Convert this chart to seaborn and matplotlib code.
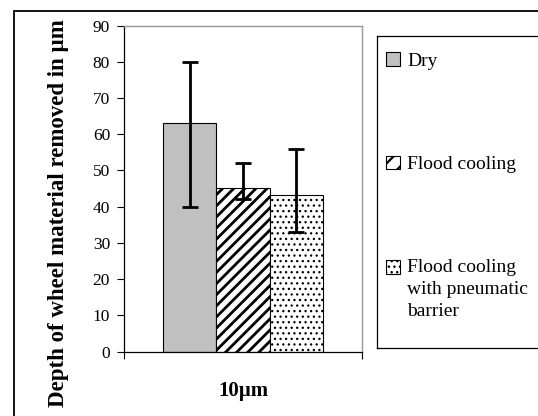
import matplotlib
matplotlib.use("Agg")
import matplotlib.pyplot as plt
import seaborn as sns
import pandas as pd
import numpy as np
from matplotlib.patches import Rectangle, Patch

categories = ["10µm"]
conditions = ["Dry", "Flood cooling", "Flood cooling\nwith pneumatic\nbarrier"]
means = [63.0, 45.3, 43.2]
err_low = [40.0, 42.0, 33.0]
err_high = [80.0, 52.0, 56.0]
yticks = [0, 10, 20, 30, 40, 50, 60, 70, 80, 90]

colors = ["#C0C0C0", "#FFFFFF", "#FFFFFF"]
hatches = ["", "///", "..."]
hatch_lw = [1.0, 2.0, 0.9]

sns.set_style("white")
plt.rcParams["font.family"] = ["Liberation Serif", "DejaVu Serif"]
plt.rcParams["hatch.linewidth"] = 2.0
plt.rcParams["hatch.color"] = "black"
plt.rcParams["text.color"] = "black"
plt.rcParams["xtick.color"] = "black"
plt.rcParams["ytick.color"] = "black"


def set_hlw(patch, lw):
    if hasattr(patch, "set_hatch_linewidth"):
        patch.set_hatch_linewidth(lw)


df = pd.DataFrame({"cat": categories * len(conditions), "cond": conditions, "val": means})

fig = plt.figure(figsize=(5.38, 4.16), dpi=100)
W, H = 538, 416
ax = fig.add_axes([124 / W, 1 - 351.7 / H, (362 - 124) / W, (351.7 - 25.5) / H])

sns.barplot(data=df, x="cat", y="val", hue="cond", hue_order=conditions,
            palette=colors, width=0.672, gap=0, edgecolor="black", linewidth=0.8,
            legend=False, ax=ax)

bars = [p for p in ax.patches]
for p, h, lw in zip(bars, hatches, hatch_lw):
    p.set_hatch(h)
    set_hlw(p, lw)

for p, m, lo, hi in zip(bars, means, err_low, err_high):
    cx = p.get_x() + p.get_width() / 2
    ax.errorbar([cx], [m], yerr=[[m - lo], [hi - m]], fmt="none", ecolor="black",
                elinewidth=2.0, capsize=6, capthick=2.0, zorder=5)

ax.set_ylim(0, 90)
ax.set_xlim(-0.5, 0.5)
ax.set_yticks(yticks)
ax.set_yticklabels([str(t) for t in yticks], fontsize=12.5)
ax.tick_params(axis="y", direction="out", length=5, width=0.8, color="black", left=True, pad=5)
ax.set_xticks([0])
ax.set_xticklabels(categories, fontsize=15, fontweight="bold")
ax.tick_params(axis="x", length=0, pad=21)
ax.set_xticks([-0.5, 0.5], minor=True)
ax.tick_params(axis="x", which="minor", direction="out", length=5, width=0.8, color="black", bottom=True)
ax.set_xlabel("")
ax.set_ylabel("")
for s in ["left", "bottom"]:
    ax.spines[s].set_color("black")
    ax.spines[s].set_linewidth(0.9)
for s in ["top", "right"]:
    ax.spines[s].set_visible(True)
    ax.spines[s].set_color("#999999")
    ax.spines[s].set_linewidth(1.0)

fig.text(59 / W, 1 - 213 / H, "Depth of wheel material removed in µm", rotation=90,
         fontsize=16.5, fontweight="bold", ha="center", va="center")

# outer chart border
fig.patches.append(Rectangle((14 / W, -0.05), 1.2, 1 - 11 / H + 0.05, transform=fig.transFigure,
                             fill=False, edgecolor="black", linewidth=1.3))

# legend box
lax = fig.add_axes([377 / W, 1 - 348 / H, (560 - 377) / W, (348 - 36) / H])
lax.set_xticks([])
lax.set_yticks([])
for s in lax.spines.values():
    s.set_color("black")
    s.set_linewidth(0.9)
lax.patch.set_alpha(0)

handles = []
for c, h, lw in zip(colors, hatches, hatch_lw):
    hp = Patch(facecolor=c, edgecolor="black", hatch=h, linewidth=0.8)
    handles.append(hp)
leg = lax.legend(handles, conditions, loc="upper left", bbox_to_anchor=(-0.015, 0.985),
                 frameon=False, fontsize=14, handlelength=0.72, handleheight=0.72,
                 handletextpad=0.36, labelspacing=4.4, borderaxespad=0.2)
for t in leg.get_texts():
    t.set_linespacing(1.38)
for hp in leg.get_patches():
    set_hlw(hp, 1.0 if hp.get_hatch() == "..." else 1.6)
    if hp.get_hatch() == "///":
        hp.set_hatch("//")
# align the third swatch with the first line of its label
leg.get_patches()[2].set_y(leg.get_patches()[2].get_y() + 16)

fig.savefig("out.png", dpi=100)
